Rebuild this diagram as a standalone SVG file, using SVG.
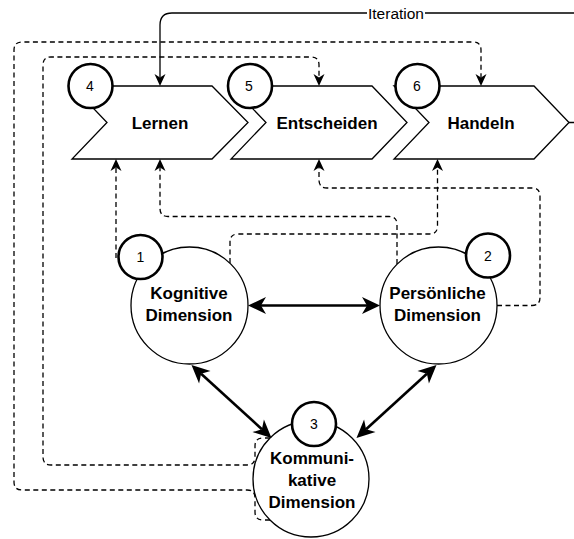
<svg xmlns="http://www.w3.org/2000/svg" width="574" height="539" viewBox="0 0 574 539">
  <style>
    text { font-family: "Liberation Sans", Arial, Helvetica, sans-serif; fill: #000; }
    .label { font-size: 17px; font-weight: bold; text-anchor: middle; }
    .num { font-size: 14px; text-anchor: middle; }
    .step { fill: #fff; stroke: #000; stroke-width: 1.3; stroke-linejoin: miter; }
    .dim { fill: #fff; stroke: #000; stroke-width: 1.3; }
    .badge { fill: #fff; stroke: #000; stroke-width: 2.6; }
    .link { fill: none; stroke: #000; stroke-width: 2.6; marker-start: url(#headBig); marker-end: url(#headBig); }
    .flow { fill: none; stroke: #000; stroke-width: 1.3; stroke-dasharray: 5 3.5; marker-end: url(#headSmall); }
    .iter { fill: none; stroke: #000; stroke-width: 1.3; marker-end: url(#headSmall); }
  </style>
  <defs>
    <!-- classic notched arrowheads; reference point sits at the notch -->
    <marker id="headBig" markerUnits="userSpaceOnUse" markerWidth="20" markerHeight="20" refX="5" refY="9" orient="auto-start-reverse" overflow="visible">
      <path d="M0,0.5 L18,9 L0,17.5 L5,9 Z" fill="#000"/>
    </marker>
    <marker id="headSmall" markerUnits="userSpaceOnUse" markerWidth="14" markerHeight="12" refX="3.5" refY="5.5" orient="auto" overflow="visible">
      <path d="M0,0 L12,5.5 L0,11 L3.5,5.5 Z" fill="#000"/>
    </marker>
  </defs>

  <!-- process steps -->
  <g id="step-lernen">
    <path class="step" d="M72,86 H212 L248,122.5 L212,159 H72 L107,122.5 Z"/>
    <text class="label" x="160" y="128.5">Lernen</text>
  </g>
  <g id="step-entscheiden">
    <path class="step" d="M231,86 H372 L407,122.5 L372,159 H231 L266,122.5 Z"/>
    <text class="label" x="327" y="128.5">Entscheiden</text>
  </g>
  <g id="step-handeln">
    <path class="step" d="M394,86 H534 L569,122.5 L534,159 H394 L429,122.5 Z"/>
    <text class="label" x="481" y="128.5">Handeln</text>
  </g>

  <!-- dimensions -->
  <g id="dim-kognitiv">
    <circle class="dim" cx="189.5" cy="305.5" r="58.5"/>
    <text class="label" x="189" y="298.5">Kognitive</text>
    <text class="label" x="189" y="320.5">Dimension</text>
  </g>
  <g id="dim-persoenlich">
    <circle class="dim" cx="438.5" cy="305.5" r="58.5"/>
    <text class="label" x="437.5" y="298.5">Persönliche</text>
    <text class="label" x="437.5" y="320.5">Dimension</text>
  </g>
  <g id="dim-kommunikativ">
    <circle class="dim" cx="311" cy="479" r="58"/>
    <text class="label" x="312" y="464">Kommuni-</text>
    <text class="label" x="312" y="486">kative</text>
    <text class="label" x="312" y="508">Dimension</text>
  </g>

  <!-- numbered badges -->
  <g id="badge-1">
    <circle class="badge" cx="140.5" cy="257" r="22"/>
    <text class="num" x="140.5" y="262">1</text>
  </g>
  <g id="badge-2">
    <circle class="badge" cx="488" cy="255.5" r="22"/>
    <text class="num" x="488" y="260.5">2</text>
  </g>
  <g id="badge-3">
    <circle class="badge" cx="314" cy="424" r="22"/>
    <text class="num" x="314" y="429">3</text>
  </g>
  <g id="badge-4">
    <circle class="badge" cx="90.5" cy="86" r="22"/>
    <text class="num" x="90" y="91">4</text>
  </g>
  <g id="badge-5">
    <circle class="badge" cx="250" cy="86" r="22"/>
    <text class="num" x="249" y="91">5</text>
  </g>
  <g id="badge-6">
    <circle class="badge" cx="417.5" cy="86" r="22"/>
    <text class="num" x="417" y="91">6</text>
  </g>

  <g id="connectors">
    <!-- mutual links between the dimensions -->
    <path class="link" d="M261,305.5 H367"/>
    <path class="link" d="M201.1,373.8 L261.9,429.2"/>
    <path class="link" d="M426.9,373.8 L366.1,429.2"/>

    <!-- influence of the dimensions on the steps -->
    <path class="flow" d="M116,258 V167.5"/>
    <path class="flow" d="M397,264 V224.5 Q397,216.5 389,216.5 H168 Q160,216.5 160,208.5 V167.5"/>
    <path class="flow" d="M230,263 V242 Q230,234 238,234 H429.5 Q437.5,234 437.5,226 V167.5"/>
    <path class="flow" d="M497,305.5 H532 Q540,305.5 540,297.5 V196 Q540,188 532,188 H327 Q319,188 319,180 V167.5"/>
    <path class="flow" d="M270,438 H263 Q255,438 255,446 V457 Q255,465 247,465 H51 Q43,465 43,457 V65 Q43,57 51,57 H311 Q319,57 319,65 V77.5"/>
    <path class="flow" d="M270,520 H263 Q255,520 255,512 V498 Q255,490 247,490 H22 Q14,490 14,482 V50 Q14,42 22,42 H473 Q481,42 481,50 V77.5"/>

    <!-- iteration loop back to the first step -->
    <path class="iter" d="M569,122.5 H574 M574,13 H172 Q160,13 160,25 V77.5"/>
    <rect x="367" y="5" width="58" height="16" fill="#fff"/>
    <text x="396" y="18.5" font-size="15.5" text-anchor="middle">Iteration</text>
  </g>
</svg>
